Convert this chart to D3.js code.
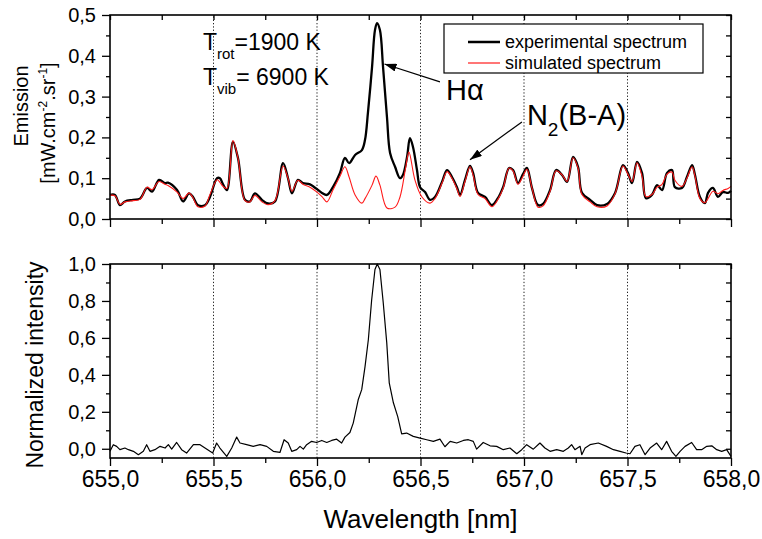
<!DOCTYPE html>
<html><head><meta charset="utf-8">
<script src="https://cdn.jsdelivr.net/npm/d3@7"></script>
<style>
body{margin:0;background:#fff;}
text{font-family:"Liberation Sans",Arial,Helvetica,sans-serif;fill:#000;}
</style>
</head><body>
<svg id="chart" width="762" height="539"></svg>
<script>
// ---------- DATA ----------
const expWl = [655.000,655.024,655.048,655.072,655.111,655.145,655.179,655.203,655.237,655.266,
655.280,655.324,655.353,655.382,655.401,655.425,655.459,655.483,655.517,655.531,
655.546,655.565,655.594,655.618,655.652,655.676,655.700,655.734,655.763,655.797,
655.836,655.860,655.879,655.908,655.932,655.966,656.024,656.048,656.077,656.111,
656.135,656.155,656.184,656.217,656.232,656.246,656.266,656.280,656.290,656.304,
656.319,656.338,656.353,656.377,656.401,656.415,656.435,656.449,656.464,656.483,
656.498,656.522,656.546,656.570,656.604,656.628,656.652,656.676,656.691,656.715,
656.739,656.754,656.778,656.812,656.845,656.874,656.899,656.928,656.947,656.971,
656.995,657.014,657.039,657.068,657.092,657.126,657.155,657.184,657.208,657.237,
657.261,657.280,657.319,657.353,657.401,657.440,657.478,657.502,657.522,657.546,
657.570,657.589,657.618,657.643,657.667,657.691,657.715,657.729,657.763,657.787,
657.812,657.826,657.850,657.874,657.889,657.913,657.937,657.961,657.986,658.000];
const expEmission = [0.059,0.059,0.034,0.043,0.047,0.050,0.076,0.067,0.096,0.088,
0.089,0.071,0.043,0.063,0.054,0.034,0.034,0.054,0.100,0.100,
0.085,0.071,0.189,0.150,0.047,0.043,0.063,0.047,0.038,0.043,
0.137,0.100,0.063,0.096,0.088,0.085,0.064,0.059,0.078,0.113,
0.150,0.137,0.157,0.169,0.194,0.260,0.373,0.463,0.480,0.463,
0.373,0.250,0.162,0.128,0.100,0.108,0.152,0.198,0.176,0.120,
0.078,0.066,0.047,0.054,0.091,0.120,0.103,0.078,0.059,0.096,
0.130,0.113,0.064,0.054,0.034,0.051,0.078,0.125,0.120,0.088,
0.110,0.125,0.075,0.034,0.037,0.071,0.120,0.108,0.091,0.152,
0.128,0.064,0.047,0.034,0.037,0.064,0.132,0.113,0.088,0.140,
0.113,0.051,0.059,0.083,0.071,0.113,0.120,0.078,0.076,0.103,
0.132,0.108,0.054,0.039,0.064,0.076,0.054,0.066,0.064,0.069];

const simWl = [655.000,655.024,655.048,655.072,655.111,655.145,655.179,655.203,655.237,655.266,
655.280,655.324,655.353,655.382,655.401,655.425,655.459,655.483,655.517,655.531,
655.546,655.565,655.594,655.618,655.652,655.676,655.700,655.734,655.763,655.797,
655.836,655.860,655.879,655.908,655.932,655.966,656.000,656.024,656.048,656.077,
656.111,656.135,656.155,656.184,656.217,656.232,656.266,656.285,656.304,656.338,
656.377,656.401,656.429,656.444,656.473,656.507,656.546,656.570,656.604,656.628,
656.652,656.676,656.691,656.715,656.739,656.754,656.778,656.812,656.845,656.874,
656.899,656.928,656.947,656.971,656.995,657.014,657.039,657.068,657.092,657.126,
657.155,657.184,657.208,657.237,657.261,657.280,657.319,657.353,657.401,657.440,
657.478,657.502,657.522,657.546,657.570,657.589,657.618,657.643,657.667,657.691,
657.715,657.729,657.763,657.787,657.812,657.826,657.850,657.874,657.889,657.913,
657.937,657.961,657.986,658.000];
const simEmission = [0.058,0.057,0.036,0.042,0.045,0.048,0.078,0.072,0.092,0.085,
0.082,0.066,0.050,0.064,0.052,0.030,0.032,0.060,0.096,0.090,
0.080,0.075,0.192,0.150,0.045,0.042,0.058,0.042,0.035,0.045,
0.130,0.100,0.068,0.095,0.085,0.078,0.066,0.055,0.042,0.071,
0.105,0.128,0.103,0.059,0.039,0.050,0.083,0.105,0.083,0.027,
0.029,0.054,0.128,0.164,0.096,0.054,0.039,0.050,0.088,0.116,
0.100,0.074,0.055,0.092,0.128,0.108,0.060,0.050,0.030,0.048,
0.075,0.125,0.118,0.085,0.105,0.122,0.075,0.029,0.032,0.068,
0.118,0.108,0.092,0.150,0.125,0.060,0.042,0.030,0.032,0.062,
0.130,0.110,0.092,0.138,0.105,0.055,0.060,0.078,0.085,0.110,
0.115,0.095,0.080,0.100,0.128,0.105,0.050,0.040,0.050,0.068,
0.062,0.070,0.075,0.080];

const normWl = [655.000,655.016,655.032,655.048,655.072,655.089,655.113,655.137,655.161,655.177,
655.193,655.217,655.242,655.266,655.282,655.298,655.322,655.346,655.370,655.403,
655.435,655.459,655.483,655.496,655.515,655.531,655.564,655.588,655.612,655.628,
655.660,655.692,655.725,655.757,655.789,655.821,655.841,655.861,655.878,655.902,
655.918,655.934,655.950,655.974,655.998,656.023,656.047,656.071,656.095,656.119,
656.135,656.159,656.175,656.199,656.216,656.232,656.248,656.264,656.280,656.291,
656.304,656.320,656.337,656.349,656.369,656.390,656.409,656.433,656.465,656.498,
656.530,656.562,656.594,656.618,656.643,656.675,656.707,656.731,656.755,656.771,
656.803,656.836,656.868,656.900,656.932,656.965,656.989,657.013,657.045,657.077,
657.101,657.126,657.158,657.190,657.214,657.230,657.246,657.271,657.279,657.295,
657.319,657.359,657.399,657.432,657.464,657.493,657.512,657.536,657.560,657.585,
657.609,657.641,657.665,657.689,657.713,657.734,657.754,657.778,657.810,657.834,
657.858,657.883,657.907,657.931,657.955,657.979,658.000];
const normIntensity = [-0.014,0.022,0.013,-0.005,0.004,-0.005,-0.014,-0.032,-0.014,0.022,
-0.014,-0.005,0.013,0.004,0.022,-0.002,0.034,-0.005,-0.023,0.022,
0.022,0.004,-0.014,-0.023,0.031,0.004,-0.041,0.004,0.063,0.031,
0.022,0.013,0.022,0.013,-0.014,-0.020,0.049,0.031,-0.014,-0.005,
0.013,-0.002,0.022,0.040,0.034,0.045,0.034,0.045,0.052,0.031,
0.063,0.088,0.139,0.265,0.320,0.445,0.590,0.805,0.970,1.000,
0.970,0.790,0.573,0.357,0.249,0.174,0.081,0.085,0.067,0.058,
0.049,0.040,0.052,0.011,0.040,0.031,0.045,0.049,0.040,-0.002,
0.034,0.016,0.013,-0.005,0.004,-0.027,-0.005,0.022,-0.002,0.031,
0.004,-0.014,-0.005,-0.014,0.004,0.022,-0.005,0.013,-0.032,0.004,
0.022,0.031,0.013,-0.005,-0.014,-0.023,-0.027,0.013,0.022,-0.032,
0.004,0.031,-0.005,0.040,-0.014,-0.041,-0.014,0.013,0.034,-0.005,
-0.005,0.013,0.016,-0.005,-0.014,-0.005,-0.041];

const xTicks = [655.0,655.5,656.0,656.5,657.0,657.5,658.0];
const xTickLabels = ["655,0","655,5","656,0","656,5","657,0","657,5","658,0"];
const xMinorTicks = [655.25,655.75,656.25,656.75,657.25,657.75];
const gridWl = [655.5,656.0,656.5,657.0,657.5];
const topYTicks = [0,0.1,0.2,0.3,0.4,0.5];
const topYTickLabels = ["0,0","0,1","0,2","0,3","0,4","0,5"];
const topYMinor = [0.05,0.15,0.25,0.35,0.45];
const botYTicks = [0,0.2,0.4,0.6,0.8,1.0];
const botYTickLabels = ["0,0","0,2","0,4","0,6","0,8","1,0"];
const botYMinor = [0.1,0.3,0.5,0.7,0.9];
const seriesNames = ["experimental spectrum","simulated spectrum"];

// ---------- LAYOUT ----------
const svg = d3.select("#chart");
const L = 110, R = 731;
const x = d3.scaleLinear().domain([655,658]).range([L,R]);
const yTop = d3.scaleLinear().domain([0,0.5]).range([219,15]);
const yBot = d3.scaleLinear().domain([-0.05,1.0]).range([458,264]);

function gridLines(y){
  svg.append("g").selectAll("line").data(gridWl).join("line")
    .attr("x1",d=>x(d)).attr("x2",d=>x(d))
    .attr("y1",y.range()[0]).attr("y2",y.range()[1])
    .attr("stroke","#222").attr("stroke-width",1).attr("stroke-dasharray","1.3,2");
}
function styleAxis(g, fs){
  g.select(".domain").remove();
  g.selectAll(".tick line").attr("stroke","#000").attr("stroke-width",1.3);
  g.selectAll(".tick text").attr("font-size",fs).attr("font-family","Liberation Sans, Arial, sans-serif").attr("fill","#000");
}
function frame(y, showXLabels){
  const y0 = y.range()[0], y1 = y.range()[1];
  // bottom outward
  styleAxis(svg.append("g").attr("transform",`translate(0,${y0})`)
    .call(d3.axisBottom(x).tickValues(xTicks).tickSize(8).tickPadding(5)
      .tickFormat((d,i)=> showXLabels ? xTickLabels[i] : "")), 23);
  styleAxis(svg.append("g").attr("transform",`translate(0,${y0})`)
    .call(d3.axisBottom(x).tickValues(xMinorTicks).tickSize(5).tickFormat("")), 10);
  // top inward
  styleAxis(svg.append("g").attr("transform",`translate(0,${y1})`)
    .call(d3.axisBottom(x).tickValues(xTicks.concat(xMinorTicks)).tickSize(5).tickFormat("")), 10);
  svg.append("rect").attr("x",L).attr("y",y1).attr("width",R-L).attr("height",y0-y1)
    .attr("fill","none").attr("stroke","#000").attr("stroke-width",1.6);
}
function yAxes(y, major, labels, minor){
  styleAxis(svg.append("g").attr("transform",`translate(${L},0)`)
    .call(d3.axisLeft(y).tickValues(major).tickSize(8).tickPadding(6).tickFormat((d,i)=>labels[i])), 20);
  styleAxis(svg.append("g").attr("transform",`translate(${L},0)`)
    .call(d3.axisLeft(y).tickValues(minor).tickSize(4).tickFormat("")), 10);
  styleAxis(svg.append("g").attr("transform",`translate(${R},0)`)
    .call(d3.axisRight(y).tickValues(major.concat(minor)).tickSize(-5).tickFormat("")), 10);
}

// ---------- TOP PANEL ----------
gridLines(yTop);
const lineTop = d3.line().x(d=>x(d[0])).y(d=>yTop(d[1])).curve(d3.curveCatmullRom.alpha(0.5));
svg.append("path").datum(d3.zip(expWl, expEmission)).attr("d",lineTop)
  .attr("fill","none").attr("stroke","#000").attr("stroke-width",2.3).attr("stroke-linejoin","round");
svg.append("path").datum(d3.zip(simWl, simEmission)).attr("d",lineTop)
  .attr("fill","none").attr("stroke","#ff1a1a").attr("stroke-width",1.1).attr("stroke-linejoin","round");
frame(yTop, false);
yAxes(yTop, topYTicks, topYTickLabels, topYMinor);

// legend
const lg = svg.append("g");
lg.append("rect").attr("x",444).attr("y",24).attr("width",259).attr("height",49)
  .attr("fill","#fff").attr("stroke","#000").attr("stroke-width",1.2);
const lgColors = ["#000","#ff1a1a"], lgW = [2.5,1.2];
seriesNames.forEach((n,i)=>{
  const yy = 42 + i*21;
  lg.append("line").attr("x1",468).attr("x2",500).attr("y1",yy).attr("y2",yy)
    .attr("stroke",lgColors[i]).attr("stroke-width",lgW[i]);
  lg.append("text").attr("x",505).attr("y",yy+6).attr("font-size",18).text(n);
});

// annotations
const defs = svg.append("defs");
defs.append("marker").attr("id","arr").attr("viewBox","0 0 12 8").attr("refX",12).attr("refY",4)
  .attr("markerWidth",12).attr("markerHeight",8).attr("markerUnits","userSpaceOnUse").attr("orient","auto")
  .append("path").attr("d","M0,0 L12,4 L0,8 Z").attr("fill","#000");
const tT = svg.append("text").attr("x",x(655.449)).attr("y",yTop(0.414)).attr("font-size",23);
tT.append("tspan").text("T");
tT.append("tspan").attr("font-size",15).attr("dy",9).text("rot");
tT.append("tspan").attr("dy",-9).text("=1900 K");
const tV = svg.append("text").attr("x",x(655.449)).attr("y",yTop(0.328)).attr("font-size",23);
tV.append("tspan").text("T");
tV.append("tspan").attr("font-size",15).attr("dy",9).text("vib");
tV.append("tspan").attr("dy",-9).text("= 6900 K");

svg.append("line").attr("x1",x(656.594)).attr("y1",yTop(0.336)).attr("x2",x(656.326)).attr("y2",yTop(0.380))
  .attr("stroke","#000").attr("stroke-width",1.2).attr("marker-end","url(#arr)");
svg.append("text").attr("x",x(656.623)).attr("y",yTop(0.292)).attr("font-size",29).text("Hα");

svg.append("line").attr("x1",x(656.990)).attr("y1",yTop(0.238)).attr("x2",x(656.739)).attr("y2",yTop(0.145))
  .attr("stroke","#000").attr("stroke-width",1.2).attr("marker-end","url(#arr)");
const tN = svg.append("text").attr("x",x(657.014)).attr("y",yTop(0.230)).attr("font-size",29);
tN.append("tspan").text("N");
tN.append("tspan").attr("font-size",19).attr("dy",11).text("2");
tN.append("tspan").attr("dy",-11).text("(B-A)");

// ---------- BOTTOM PANEL ----------
gridLines(yBot);
const lineBot = d3.line().x(d=>x(d[0])).y(d=>yBot(d[1]));
svg.append("path").datum(d3.zip(normWl, normIntensity)).attr("d",lineBot)
  .attr("fill","none").attr("stroke","#000").attr("stroke-width",1.2).attr("stroke-linejoin","round");
frame(yBot, true);
yAxes(yBot, botYTicks, botYTickLabels, botYMinor);

// ---------- AXIS TITLES ----------
svg.append("text").attr("transform","translate(28,106) rotate(-90)").attr("text-anchor","middle")
  .attr("font-size",20).text("Emission");
const u = svg.append("text").attr("transform","translate(55,123) rotate(-90)").attr("text-anchor","middle").attr("font-size",20);
u.append("tspan").text("[mW.cm");
u.append("tspan").attr("font-size",12).attr("dy",-8).text("-2");
u.append("tspan").attr("dy",8).text(".sr");
u.append("tspan").attr("font-size",12).attr("dy",-8).text("-1");
u.append("tspan").attr("dy",8).text("]");
svg.append("text").attr("transform","translate(43,365) rotate(-90)").attr("text-anchor","middle")
  .attr("font-size",23).text("Normalized intensity");
svg.append("text").attr("x",(L+R)/2).attr("y",528).attr("text-anchor","middle")
  .attr("font-size",26).text("Wavelength [nm]");
</script>
</body></html>
